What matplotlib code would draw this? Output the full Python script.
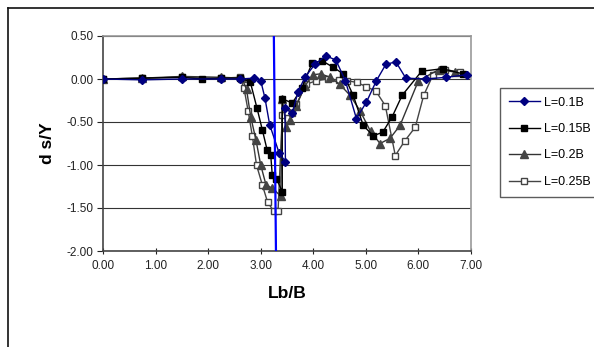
import matplotlib.pyplot as plt
from matplotlib.lines import Line2D

plt.rcParams['font.family'] = ['Liberation Sans', 'DejaVu Sans']

# L = 0.1B
x1 = [0.0, 0.75, 1.5, 2.25, 2.6, 2.87, 3.0, 3.08, 3.17, 3.35, 3.47, 3.46, 3.6, 3.71,
      3.84, 4.03, 4.24, 4.43, 4.61, 4.82, 5.01, 5.2, 5.38, 5.57, 5.76, 6.15, 6.53, 6.92]
y1 = [0.0, -0.01, 0.0, 0.0, 0.0, 0.01, -0.02, -0.22, -0.53, -0.86, -0.96, -0.34, -0.40, -0.15,
      0.02, 0.17, 0.27, 0.22, -0.02, -0.46, -0.27, -0.02, 0.17, 0.2, 0.01, 0.0, 0.02, 0.05]

# L = 0.15B
x2 = [0.0, 0.75, 1.5, 1.88, 2.25, 2.6, 2.8, 2.93, 3.03, 3.12, 3.19, 3.22, 3.3, 3.41, 3.41,
      3.6, 3.78, 3.98, 4.17, 4.37, 4.57, 4.76, 4.95, 5.14, 5.32, 5.5, 5.69, 6.06, 6.46, 6.84]
y2 = [0.0, 0.01, 0.02, 0.0, 0.01, 0.01, -0.03, -0.34, -0.59, -0.82, -0.88, -1.12, -1.16, -1.31, -0.23,
      -0.28, -0.11, 0.19, 0.21, 0.14, 0.06, -0.19, -0.54, -0.66, -0.62, -0.44, -0.19, 0.09, 0.12, 0.06]

# L = 0.2B
x3 = [0.0, 0.75, 1.5, 2.25, 2.64, 2.73, 2.81, 2.91, 3.0, 3.1, 3.22, 3.38, 3.41, 3.49, 3.56,
      3.68, 3.84, 4.0, 4.14, 4.32, 4.5, 4.7, 4.89, 5.09, 5.27, 5.46, 5.65, 6.0, 6.39, 6.7]
y3 = [0.0, 0.01, 0.03, 0.02, 0.01, -0.12, -0.44, -0.71, -1.0, -1.23, -1.27, -1.36, -0.23, -0.56, -0.48,
      -0.31, -0.08, 0.05, 0.06, 0.02, -0.06, -0.19, -0.37, -0.61, -0.75, -0.69, -0.54, -0.02, 0.11, 0.08]

# L = 0.25B
x4 = [0.0, 0.75, 1.5, 2.25, 2.6, 2.68, 2.76, 2.84, 2.92, 3.03, 3.13, 3.25, 3.33, 3.41, 3.5,
      3.6, 3.68, 3.87, 4.06, 4.28, 4.48, 4.65, 4.83, 5.01, 5.19, 5.37, 5.56, 5.74, 5.94, 6.1,
      6.28, 6.5, 6.79]
y4 = [0.0, 0.01, 0.02, 0.01, 0.02, -0.1, -0.37, -0.66, -1.0, -1.23, -1.43, -1.54, -1.53, -0.42, -0.38,
      -0.40, -0.29, -0.06, -0.02, 0.0, -0.01, -0.02, -0.04, -0.09, -0.14, -0.31, -0.89, -0.72, -0.56, -0.19,
      0.05, 0.11, 0.08]

labels = ["L=0.1B", "L=0.15B", "L=0.2B", "L=0.25B"]
yticks = [-2.0, -1.5, -1.0, -0.5, 0.0, 0.5]

fig = plt.figure(figsize=(5.94, 3.47), dpi=100)
ax = fig.add_axes([103 / 594, 1 - 251 / 347, 368 / 594, 215 / 347])

ax.set_xlim(0, 7)
ax.set_ylim(-2.0, 0.5)
ax.set_yticks(yticks)
ax.set_xticks(range(8))
ax.set_xticklabels([f"{v:.2f}" for v in range(8)])
ax.set_yticklabels([f"{v:.2f}" for v in yticks])
ax.tick_params(axis='both', labelsize=8.5, colors='#222222')
ax.tick_params(axis='y', direction='out', length=4, pad=3)
ax.tick_params(axis='x', direction='inout', length=5, pad=4)

ax.grid(axis='y', color='#333333', linewidth=0.8)
ax.set_axisbelow(True)
for side in ['top', 'right']:
    ax.spines[side].set_color('#999999')
    ax.spines[side].set_linewidth(1.2)
for side in ['left', 'bottom']:
    ax.spines[side].set_color('#444444')
    ax.spines[side].set_linewidth(1.2)

ax.plot(x1, y1, color='#000080', marker='D', markersize=4.5, linewidth=1.0,
        markerfacecolor='#000080', markeredgecolor='#000080', label=labels[0], zorder=6)
ax.plot(x2, y2, color='#000000', marker='s', markersize=5, linewidth=1.0,
        markerfacecolor='#000000', label=labels[1], zorder=5)
ax.plot(x3, y3, color='#333333', marker='^', markersize=5.5, linewidth=1.0,
        markerfacecolor='#444444', markeredgecolor='#444444', label=labels[2], zorder=4)
ax.plot(x4, y4, color='#444444', marker='s', markersize=5, linewidth=1.0,
        markerfacecolor='white', markeredgecolor='#444444', label=labels[3], zorder=3)

# vertical marker line
ax.plot([3.25, 3.29], [0.5, -2.0], color='#0000ff', linewidth=1.6, zorder=7)

ax.set_xlabel("Lb/B", fontsize=12.5, fontweight='bold', labelpad=10)
ax.set_ylabel("d s/Y", fontsize=12.5, fontweight='bold', labelpad=8)

fig.legend(loc='upper left', bbox_to_anchor=(500 / 594, 1 - 88 / 347),
           fontsize=9, frameon=True, fancybox=False, edgecolor='#333333',
           handlelength=2.5, borderpad=0.7, labelspacing=1.15, handletextpad=0.3,
           borderaxespad=0)

# outer chart frame
fig.add_artist(Line2D([8 / 594, 1], [1 - 7.5 / 347, 1 - 7.5 / 347], color='#111111', linewidth=1.2))
fig.add_artist(Line2D([8 / 594, 8 / 594], [0, 1 - 7.5 / 347], color='#111111', linewidth=1.2))

fig.savefig("out.png", dpi=100)
